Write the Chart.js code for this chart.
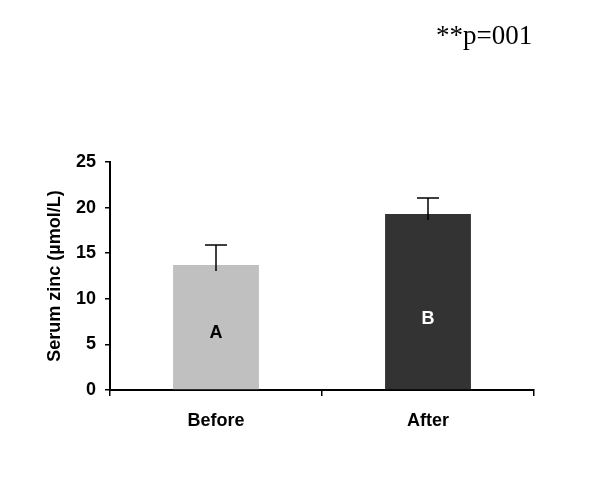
<!DOCTYPE html>
<html>
<head>
<meta charset="utf-8">
<script src="https://cdn.jsdelivr.net/npm/chart.js@4.4.0/dist/chart.umd.min.js"></script>
<style>
  html, body { margin: 0; padding: 0; background: #fff; }
  #wrap { width: 600px; height: 480px; }
</style>
</head>
<body>
<div id="wrap"><canvas id="grafico" width="600" height="480"></canvas></div>
<script>
// dados do grafico
let categorias = ['Before', 'After'];
let medias = [13.7, 19.3];
let erros = [2.2, 1.75];
let letras = ['A', 'B'];
let posicaoLetras = [6.2, 7.8];
let coresBarras = ['#c0c0c0', '#333333'];
let coresLetras = ['#000000', '#ffffff'];
let tituloY = 'Serum zinc (\u00b5mol/L)';
let textoP = '**p=001';

let fonteArial = '"Liberation Sans", Arial, sans-serif';

// desenha barras de erro, letras e o texto do p
let extras = {
    id: 'extras',
    afterDatasetsDraw(chart) {
        let ctx = chart.ctx;
        let x = chart.scales.x;
        let y = chart.scales.y;
        ctx.save();
        for (let i = 0; i < medias.length; i++) {
            let cx = x.getPixelForValue(i);
            let topo = y.getPixelForValue(medias[i] + erros[i]);
            let base = y.getPixelForValue(medias[i]) + 6;
            ctx.strokeStyle = '#000';
            ctx.lineWidth = 1.5;
            ctx.beginPath();
            ctx.moveTo(cx, base);
            ctx.lineTo(cx, topo);
            ctx.moveTo(cx - 11, topo);
            ctx.lineTo(cx + 11, topo);
            ctx.stroke();

            ctx.fillStyle = coresLetras[i];
            ctx.font = 'bold 18px ' + fonteArial;
            ctx.textAlign = 'center';
            ctx.textBaseline = 'middle';
            ctx.fillText(letras[i], cx, y.getPixelForValue(posicaoLetras[i]));
        }

        // titulo do eixo y
        ctx.fillStyle = '#000';
        ctx.font = 'bold 18px ' + fonteArial;
        ctx.translate(55, (y.top + y.bottom) / 2);
        ctx.rotate(-Math.PI / 2);
        ctx.textAlign = 'center';
        ctx.textBaseline = 'middle';
        ctx.fillText(tituloY, 0, 0);
        ctx.restore();

        ctx.save();
        ctx.fillStyle = '#000';
        ctx.font = '27px "Liberation Serif", "Times New Roman", serif';
        ctx.textAlign = 'left';
        ctx.textBaseline = 'middle';
        ctx.fillText(textoP, 436, 37);
        ctx.restore();
    }
};

let grafico = new Chart(document.getElementById('grafico').getContext('2d'), {
    type: 'bar',
    data: {
        labels: categorias,
        datasets: [{
            data: medias,
            backgroundColor: coresBarras,
            borderWidth: 0,
            barPercentage: 0.405,
            categoryPercentage: 1.0
        }]
    },
    options: {
        responsive: false,
        animation: false,
        layout: { padding: { top: 162, right: 66, left: 0, bottom: 0 } },
        plugins: {
            legend: { display: false },
            tooltip: { enabled: false }
        },
        scales: {
            x: {
                offset: true,
                grid: {
                    offset: true,
                    drawOnChartArea: false,
                    drawTicks: true,
                    tickLength: 6,
                    color: '#000',
                    lineWidth: 1.5
                },
                border: { color: '#000', width: 2 },
                ticks: {
                    color: '#000',
                    padding: 14,
                    font: { family: fonteArial, size: 18, weight: 'bold' }
                },
                afterFit(scale) { scale.height = 90; }
            },
            y: {
                min: 0,
                max: 25,
                ticks: {
                    stepSize: 5,
                    color: '#000',
                    padding: 9,
                    font: { family: fonteArial, size: 18, weight: 'bold' }
                },
                grid: {
                    drawOnChartArea: false,
                    drawTicks: true,
                    tickLength: 5,
                    color: '#000',
                    lineWidth: 1.5
                },
                border: { color: '#000', width: 2 },
                afterFit(scale) { scale.width = 110; }
            }
        }
    },
    plugins: [extras]
});
</script>
</body>
</html>
